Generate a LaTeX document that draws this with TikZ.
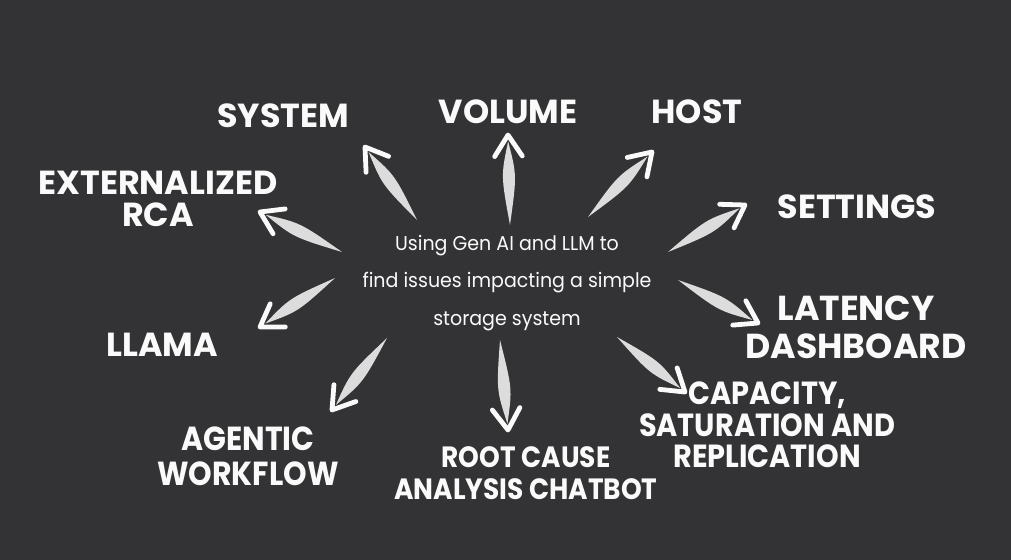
\documentclass[tikz,border=0pt]{standalone}
\usepackage{fontspec}
\usetikzlibrary{calc}
\newfontfamily\labfont{Poppins}[FakeStretch=1.0]
\newfontfamily\labfontn{Poppins}[FakeStretch=0.9]
\newfontfamily\midfont{Poppins}[FakeStretch=0.95]
\definecolor{board}{RGB}{51,50,52}
\definecolor{chalk}{RGB}{250,250,250}
\tikzset{
  lab/.style={text=chalk, font=\labfont\bfseries\fontsize{25}{25}\selectfont, align=center, inner sep=0pt},
  midtext/.style={text=chalk, font=\midfont\fontsize{15}{28}\selectfont, align=center, inner sep=0pt},
  shaft/.style={fill=chalk, fill opacity=0.85},
  headstroke/.style={draw=chalk, line width=3.6pt, line cap=round, line join=round}
}
\newcommand\chalkarrow[2]{%
  \fill[shaft] (#1) .. controls ($(#1)!0.55!(#2)!6pt!90:(#2)$) .. ($(#1)!0.93!(#2)$)
    .. controls ($(#1)!0.55!(#2)!6pt!-90:(#2)$) .. (#1) -- cycle;
  \draw[headstroke] ($(#2)!19pt!-33:(#1)$) -- (#2) -- ($(#2)!19pt!33:(#1)$);
}
\begin{document}
\begin{tikzpicture}[x=0.75pt,y=-0.75pt]
\fill[board] (0,0) rectangle (1011,560);
\useasboundingbox (0,0) rectangle (1011,560);

% labels
\node[lab] (system) at (283,116) {SYSTEM};
\node[lab] (volume) at (508,112) {VOLUME};
\node[lab] (host) at (697,112) {HOST};
\node[lab] (settings) at (857,207) {SETTINGS};
\node[lab, font=\labfont\bfseries\fontsize{25}{24}\selectfont] (rca) at (158,199) {EXTERNALIZED\\RCA};
\node[lab, font=\labfont\bfseries\fontsize{26}{28.5}\selectfont] (latency) at (856,327) {LATENCY\\DASHBOARD};
\node[lab, font=\labfont\bfseries\fontsize{25}{25}\selectfont] (llama) at (162,345) {LLAMA};
\node[lab, font=\labfontn\bfseries\fontsize{25}{26}\selectfont] (agentic) at (248,456) {AGENTIC\\WORKFLOW};
\node[lab, font=\labfontn\bfseries\fontsize{22}{24}\selectfont] (chatbot) at (526,473) {ROOT CAUSE\\ANALYSIS CHATBOT};
\node[lab, font=\labfontn\bfseries\fontsize{24}{23.5}\selectfont] (capacity) at (767,425) {CAPACITY,\\SATURATION AND\\REPLICATION};

\node[midtext] (center) at (507,283) {Using Gen AI and LLM to\\find issues impacting a simple\\storage system};

% arrow end points
\coordinate (s1) at (417,220); \coordinate (e1) at (365,147);
\coordinate (s2) at (510,225); \coordinate (e2) at (508,135);
\coordinate (s3) at (588,217); \coordinate (e3) at (652,152);
\coordinate (s4) at (668,252); \coordinate (e4) at (745,205);
\coordinate (s5) at (678,280); \coordinate (e5) at (758,323);
\coordinate (s6) at (617,337); \coordinate (e6) at (685,392);
\coordinate (s7) at (500,340); \coordinate (e7) at (508,430);
\coordinate (s8) at (387,338); \coordinate (e8) at (332,410);
\coordinate (s9) at (335,278); \coordinate (e9) at (260,327);
\coordinate (s10) at (342,252); \coordinate (e10) at (260,212);

\chalkarrow{s1}{e1}
\chalkarrow{s2}{e2}
\chalkarrow{s3}{e3}
\chalkarrow{s4}{e4}
\chalkarrow{s5}{e5}
\chalkarrow{s6}{e6}
\chalkarrow{s7}{e7}
\chalkarrow{s8}{e8}
\chalkarrow{s9}{e9}
\chalkarrow{s10}{e10}
\end{tikzpicture}
\end{document}
